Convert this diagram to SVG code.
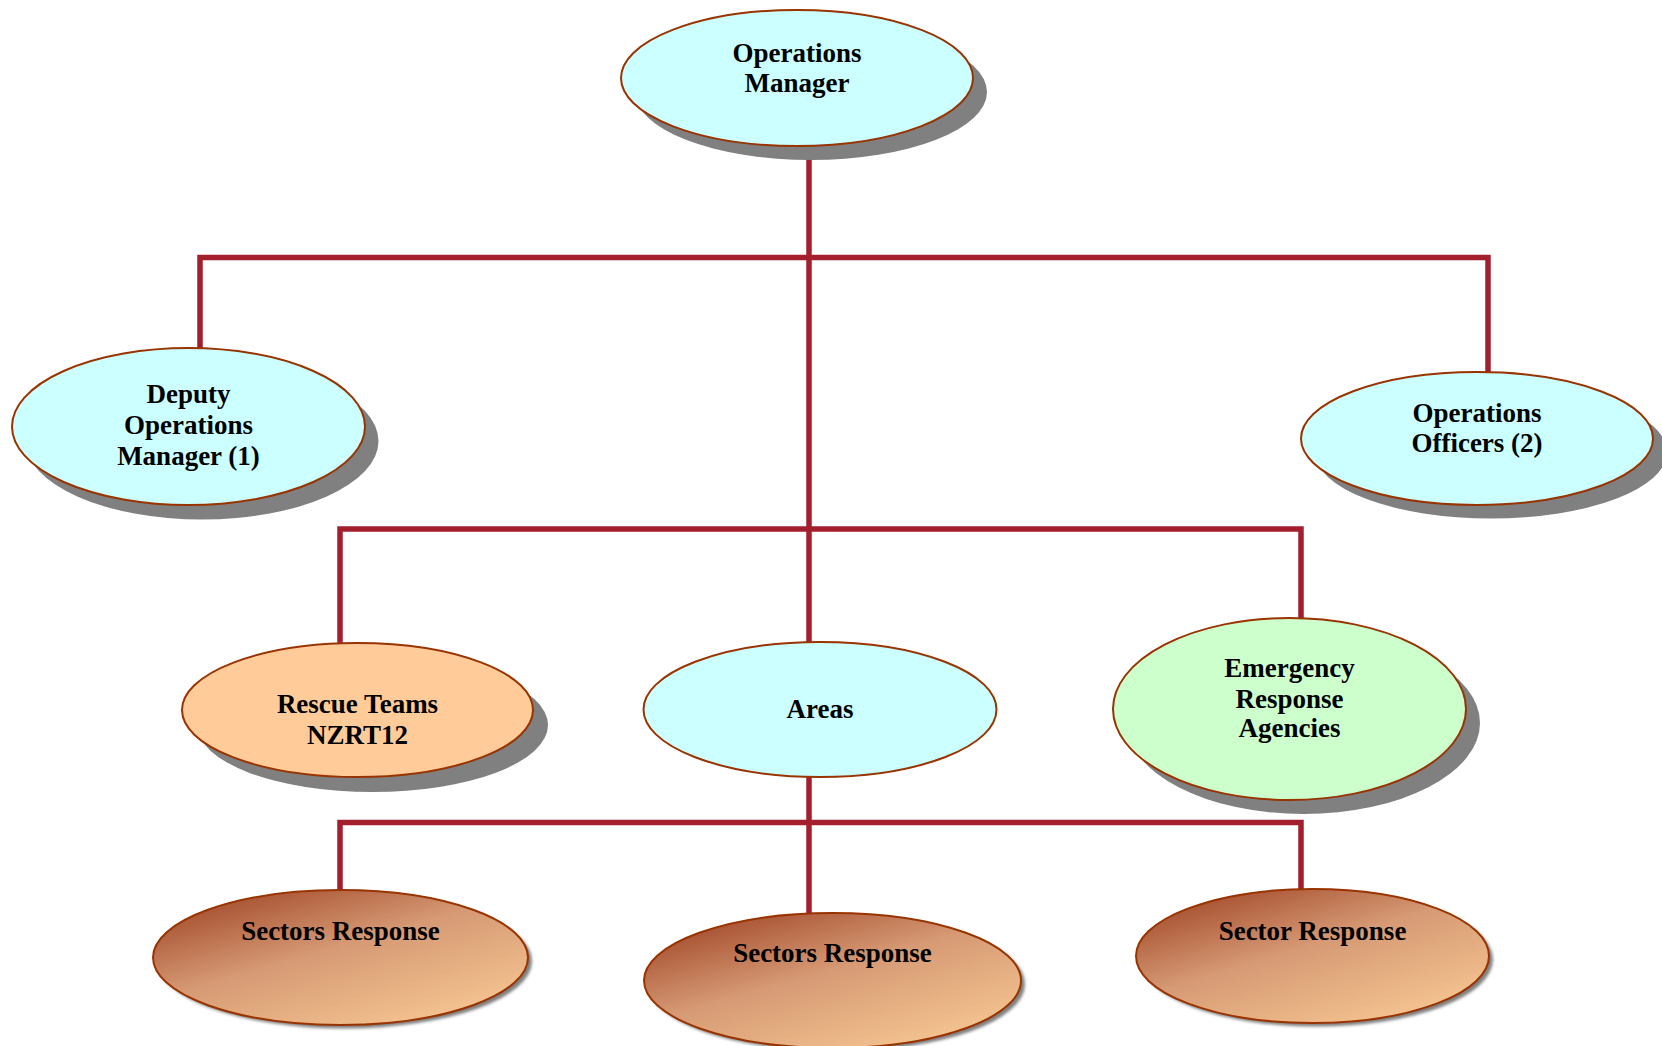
<svg xmlns="http://www.w3.org/2000/svg" width="1662" height="1046" viewBox="0 0 1662 1046">
  <style>
    .link { stroke: #A31F2E; stroke-width: 5.5; fill: none; stroke-linecap: square; }
    .node { stroke: #993300; stroke-width: 2; }
    .shadow { fill: #808080; }
    .cyan { fill: #CCFFFF; }
    .peach { fill: #FFCC99; }
    .green { fill: #CCFFCC; }
    .sector { fill: url(#sectorFill); }
    .label { font-family: "Liberation Serif", "Times New Roman", serif; font-weight: bold; font-size: 27px; fill: #000; text-anchor: middle; }
  </style>
  <defs>
    <linearGradient id="sectorFill" x1="0.1" y1="0" x2="0.9" y2="1">
      <stop offset="0" stop-color="#9E4224"/>
      <stop offset="0.45" stop-color="#D69A74"/>
      <stop offset="1" stop-color="#FACA95"/>
    </linearGradient>
    <filter id="soft" x="-10%" y="-10%" width="120%" height="120%">
      <feGaussianBlur stdDeviation="1.5"/>
    </filter>
  </defs>
  <rect width="1662" height="1046" fill="#FFFFFF"/>

  <!-- connectors -->
  <g id="connectors">
    <path class="link" d="M809 146 V913"/>
    <path class="link" d="M200 348 V257.5 H1488 V372"/>
    <path class="link" d="M340 643 V529 H1301 V618"/>
    <path class="link" d="M340 890 V822.5 H1301 V889"/>
  </g>

  <g id="operations-manager">
    <ellipse class="shadow" cx="811" cy="92" rx="176" ry="68"/>
    <ellipse class="node cyan" cx="797" cy="78" rx="176" ry="68"/>
    <text class="label" x="797" y="62">Operations</text>
    <text class="label" x="797" y="92">Manager</text>
  </g>

  <g id="deputy-operations-manager">
    <ellipse class="shadow" cx="202" cy="441" rx="176.5" ry="78.5"/>
    <ellipse class="node cyan" cx="188.5" cy="426.5" rx="176.5" ry="78.5"/>
    <text class="label" x="188.5" y="403">Deputy</text>
    <text class="label" x="188.5" y="434">Operations</text>
    <text class="label" x="188.5" y="465">Manager (1)</text>
  </g>

  <g id="operations-officers">
    <ellipse class="shadow" cx="1491" cy="452" rx="176" ry="66.5"/>
    <ellipse class="node cyan" cx="1477" cy="438.5" rx="176" ry="66.5"/>
    <text class="label" x="1477" y="422">Operations</text>
    <text class="label" x="1477" y="452">Officers (2)</text>
  </g>

  <g id="rescue-teams">
    <ellipse class="shadow" cx="372.5" cy="725" rx="175.5" ry="67"/>
    <ellipse class="node peach" cx="357.5" cy="710" rx="175.5" ry="67"/>
    <text class="label" x="357.5" y="713">Rescue Teams</text>
    <text class="label" x="357.5" y="744">NZRT12</text>
  </g>

  <g id="areas">
    <ellipse class="node cyan" cx="820" cy="709.5" rx="176.5" ry="67.5"/>
    <text class="label" x="820" y="718">Areas</text>
  </g>

  <g id="emergency-response-agencies">
    <ellipse class="shadow" cx="1303.5" cy="723" rx="176.5" ry="91"/>
    <ellipse class="node green" cx="1289.5" cy="709" rx="176.5" ry="91"/>
    <text class="label" x="1289.5" y="677">Emergency</text>
    <text class="label" x="1289.5" y="708">Response</text>
    <text class="label" x="1289.5" y="737">Agencies</text>
  </g>

  <g id="sectors-response-left">
    <ellipse class="shadow" cx="344.5" cy="961" rx="187.5" ry="67.5" filter="url(#soft)"/>
    <ellipse class="node sector" cx="340.5" cy="957.5" rx="187.5" ry="67.5"/>
    <text class="label" x="340.5" y="940">Sectors Response</text>
  </g>

  <g id="sectors-response-middle">
    <ellipse class="shadow" cx="836.5" cy="984" rx="188.5" ry="67.5" filter="url(#soft)"/>
    <ellipse class="node sector" cx="832.5" cy="980.5" rx="188.5" ry="67.5"/>
    <text class="label" x="832.5" y="962">Sectors Response</text>
  </g>

  <g id="sector-response-right">
    <ellipse class="shadow" cx="1316.5" cy="959.5" rx="176.5" ry="67" filter="url(#soft)"/>
    <ellipse class="node sector" cx="1312.5" cy="956" rx="176.5" ry="67"/>
    <text class="label" x="1312.5" y="940">Sector Response</text>
  </g>
</svg>
